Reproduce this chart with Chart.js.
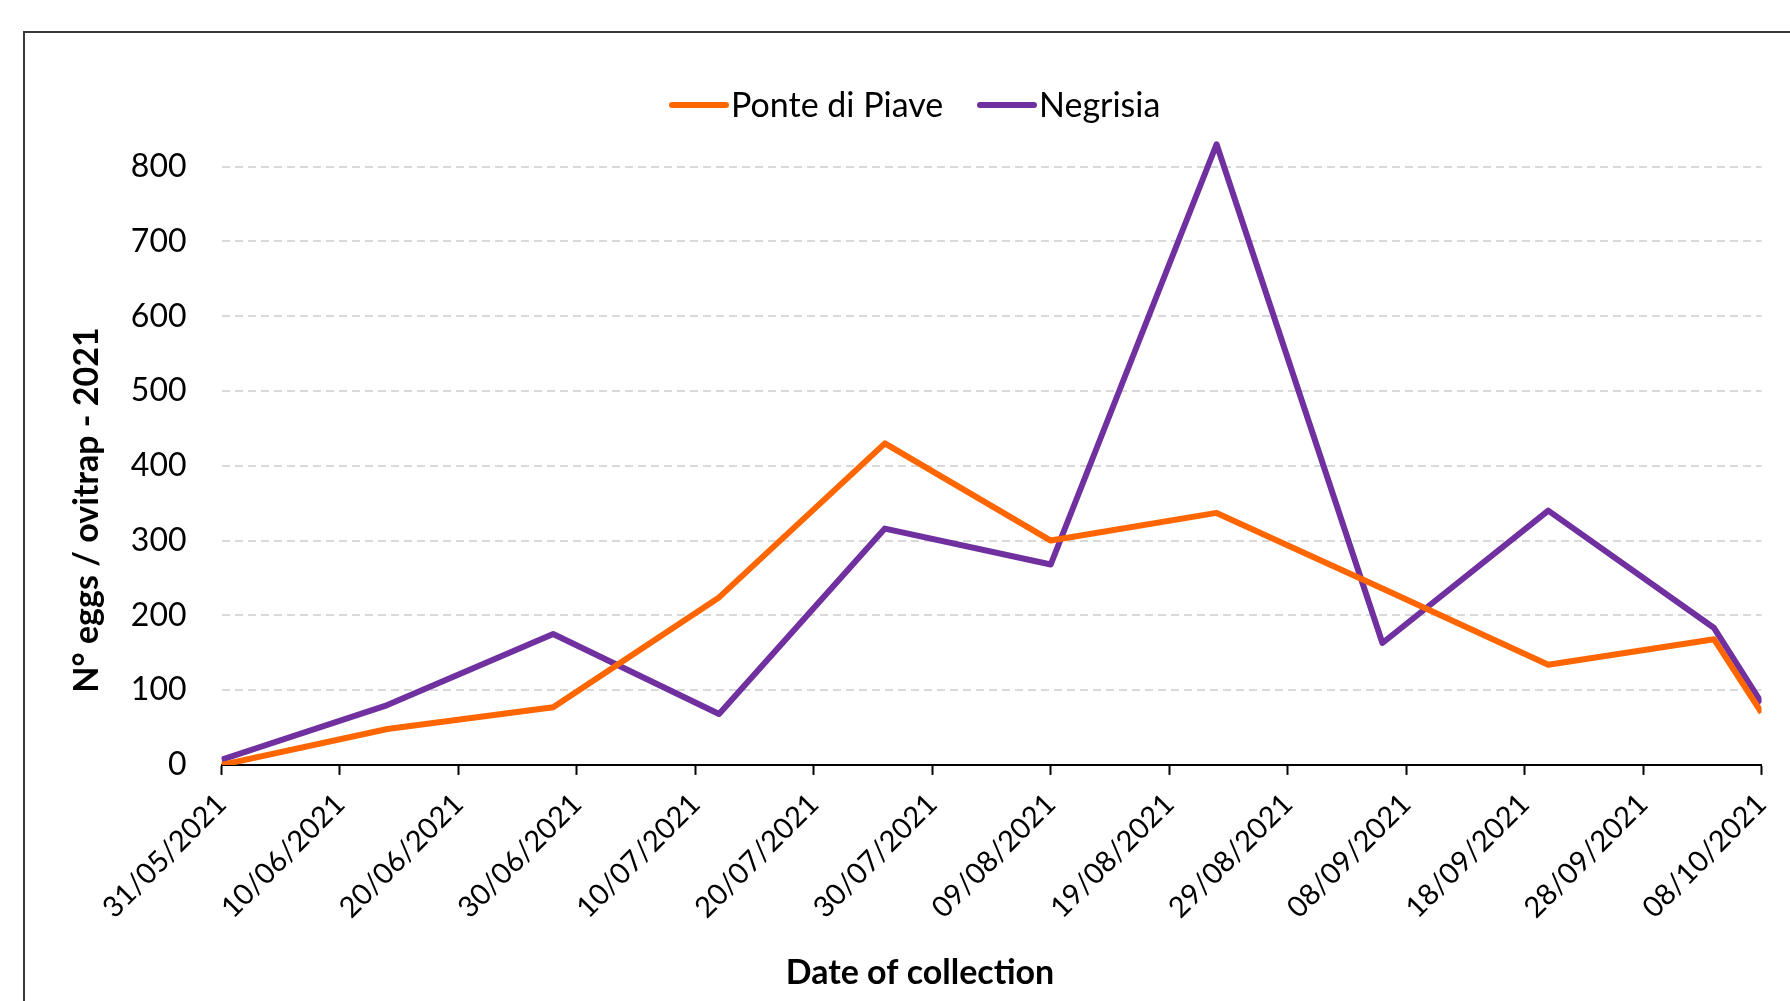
<!DOCTYPE html>
<html>
<head>
<meta charset="utf-8">
<title>Ovitrap egg counts 2021</title>
<script src="https://cdn.jsdelivr.net/npm/chart.js@4.4.1/dist/chart.umd.min.js"></script>
<style>
  html, body { margin: 0; padding: 0; background: #fff; overflow: hidden; }
  #wrap { position: absolute; left: 0; top: 0; width: 1790px; height: 1001px; }
</style>
</head>
<body>
<div id="wrap"><canvas id="c" width="1790" height="1001"></canvas></div>
<script>
// Collection dates (ISO) and mean eggs per ovitrap at each site
const collectionDates = ['2021-05-31', '2021-06-14', '2021-06-28', '2021-07-12', '2021-07-26',
                         '2021-08-09', '2021-08-23', '2021-09-06', '2021-09-20', '2021-10-04', '2021-10-08'];
const ponteDiPiave = [0, 48, 77, 224, 430, 300, 337, 236, 134, 168, 70];
const negrisia     = [7, 80, 175, 68, 316, 268, 830, 163, 340, 183, 83];

// Axis settings
const axisStartDate = '2021-05-31';
const axisEndDate   = '2021-10-08';
const xTickEveryDays = 10;
const yTickLabels = [0, 100, 200, 300, 400, 500, 600, 700, 800];
const yAxisTop = 850;

const seriesNames  = ['Ponte di Piave', 'Negrisia'];
const seriesColors = ['#FF6600', '#7030A0'];
const xAxisTitle = 'Date of collection';
const yAxisTitle = 'N° eggs / ovitrap - 2021';

const DAY_MS = 86400000;
function toUTC(iso) { const [y, m, d] = iso.split('-').map(Number); return Date.UTC(y, m - 1, d); }
const originMs = toUTC(axisStartDate);
function dayOffset(iso) { return Math.round((toUTC(iso) - originMs) / DAY_MS); }
function formatDay(offset) {
  const dt = new Date(originMs + offset * DAY_MS);
  const dd = String(dt.getUTCDate()).padStart(2, '0');
  const mm = String(dt.getUTCMonth() + 1).padStart(2, '0');
  return dd + '/' + mm + '/' + dt.getUTCFullYear();
}
function points(values) { return collectionDates.map((d, i) => ({ x: dayOffset(d), y: values[i] })); }

const FONT = 'Lato, "Open Sans", sans-serif';

// Frame, legend and axis titles drawn around the plot
const decorPlugin = {
  id: 'decor',
  beforeDraw(chart) {
    const ctx = chart.ctx;
    ctx.save();
    ctx.fillStyle = '#fff';
    ctx.fillRect(0, 0, chart.width, chart.height);
    ctx.strokeStyle = '#3a3a3a';
    ctx.lineWidth = 2;
    ctx.strokeRect(24, 32, 1795, 1000);
    ctx.restore();
  },
  afterDraw(chart) {
    const ctx = chart.ctx;
    ctx.save();
    // legend
    const legendItems = [{ x: 672, text: seriesNames[0], color: seriesColors[0] },
                         { x: 980, text: seriesNames[1], color: seriesColors[1] }];
    ctx.font = '34px ' + FONT;
    ctx.textBaseline = 'middle';
    ctx.textAlign = 'left';
    legendItems.forEach(it => {
      ctx.strokeStyle = it.color;
      ctx.lineWidth = 6;
      ctx.lineCap = 'round';
      ctx.beginPath();
      ctx.moveTo(it.x, 105);
      ctx.lineTo(it.x + 54, 105);
      ctx.stroke();
      ctx.fillStyle = '#000';
      ctx.fillText(it.text, it.x + 59, 106);
    });
    // axis titles
    ctx.font = 'bold 34px ' + FONT;
    ctx.textAlign = 'center';
    ctx.fillText(xAxisTitle, 920, 973);
    ctx.translate(87, 510);
    ctx.rotate(-Math.PI / 2);
    ctx.font = 'bold 34px ' + FONT;
    ctx.fillText(yAxisTitle, 0, 0);
    ctx.restore();
  }
};

const lineStyle = { borderWidth: 6, pointRadius: 0, tension: 0, borderJoinStyle: 'round', borderCapStyle: 'butt' };

new Chart(document.getElementById('c'), {
  type: 'line',
  data: {
    datasets: [
      Object.assign({ label: seriesNames[0], data: points(ponteDiPiave), borderColor: seriesColors[0], backgroundColor: seriesColors[0] }, lineStyle),
      Object.assign({ label: seriesNames[1], data: points(negrisia), borderColor: seriesColors[1], backgroundColor: seriesColors[1] }, lineStyle)
    ]
  },
  options: {
    responsive: false,
    animation: false,
    devicePixelRatio: 1,
    layout: { padding: { left: 0, right: 28.5, top: 129.3, bottom: 0 } },
    plugins: { legend: { display: false }, tooltip: { enabled: false } },
    scales: {
      x: {
        type: 'linear',
        min: 0,
        max: dayOffset(axisEndDate),
        afterFit(scale) { scale.height = 236.1; scale.paddingLeft = 0; scale.paddingRight = 0; },
        ticks: {
          stepSize: xTickEveryDays,
          autoSkip: false,
          minRotation: 45,
          maxRotation: 45,
          color: '#000',
          font: { family: FONT, size: 29 },
          padding: 12,
          callback: v => formatDay(v)
        },
        grid: { drawOnChartArea: false, drawTicks: true, tickLength: 10, tickColor: '#000', tickWidth: 2 },
        border: { display: true, color: '#000', width: 2 }
      },
      y: {
        min: 0,
        max: yAxisTop,
        afterFit(scale) { scale.width = 221.5; },
        afterBuildTicks(scale) { scale.ticks = yTickLabels.map(v => ({ value: v })); },
        ticks: { color: '#000', font: { family: FONT, size: 32 }, padding: 35 },
        grid: { color: '#D9D9D9', lineWidth: 2, drawTicks: false },
        border: { display: false, dash: [8, 5] }
      }
    }
  },
  plugins: [decorPlugin]
});
</script>
</body>
</html>
